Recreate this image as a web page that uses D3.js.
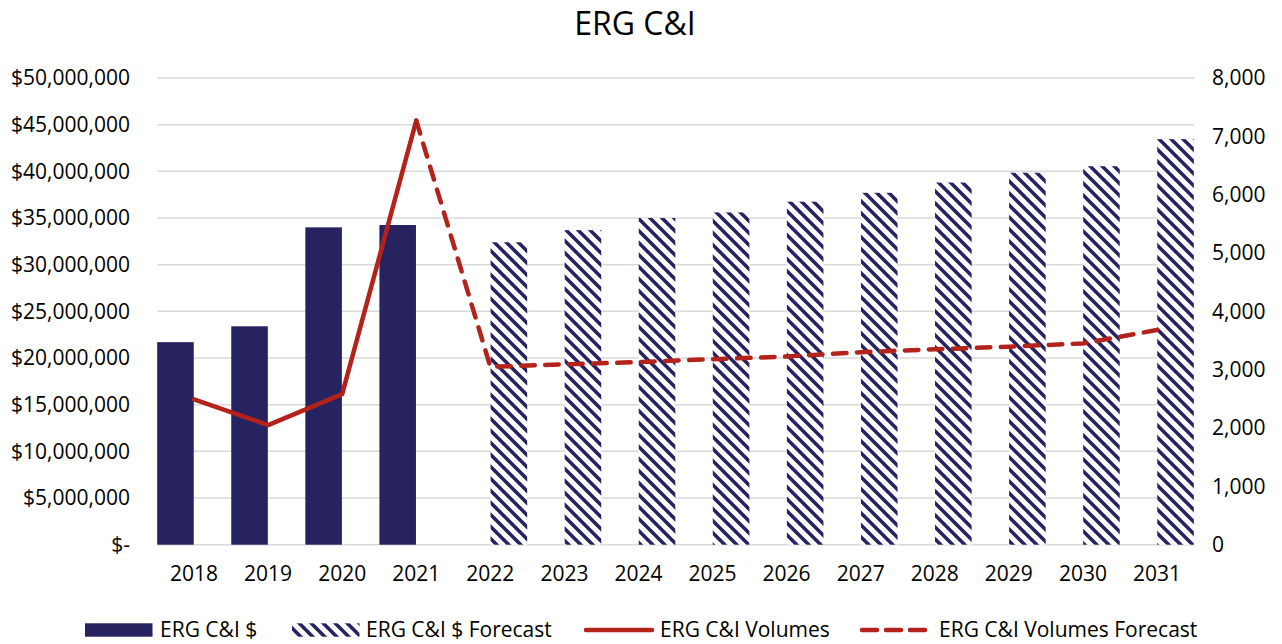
<!DOCTYPE html>
<html>
<head>
<meta charset="utf-8">
<script src="https://cdn.jsdelivr.net/npm/d3@7"></script>
<style>
  html, body { margin: 0; padding: 0; background: #fff; }
  svg { display: block; font-family: "Open Sans", sans-serif; }
</style>
</head>
<body>
<svg id="chart" width="1282" height="644"></svg>
<script>
// ---- data ----
const years = ["2018","2019","2020","2021","2022","2023","2024","2025","2026","2027","2028","2029","2030","2031"];
const dollars = [21700000, 23400000, 34000000, 34250000, null, null, null, null, null, null, null, null, null, null];
const dollarsForecast = [null, null, null, null, 32400000, 33700000, 35000000, 35600000, 36750000, 37700000, 38800000, 39850000, 40550000, 43450000];
const volumes = [2490, 2050, 2580, 7270, null, null, null, null, null, null, null, null, null, null];
const volumesForecast = [null, null, null, 7270, 3050, 3090, 3130, 3180, 3225, 3300, 3350, 3395, 3450, 3680];
const leftTicks = [0, 5000000, 10000000, 15000000, 20000000, 25000000, 30000000, 35000000, 40000000, 45000000, 50000000];
const rightTicks = [0, 1000, 2000, 3000, 4000, 5000, 6000, 7000, 8000];
const seriesNames = ["ERG C&I $", "ERG C&I $ Forecast", "ERG C&I Volumes", "ERG C&I Volumes Forecast"];
const title = "ERG C&I";

const NAVY = "#272361";
const RED = "#B3221B";
const GRID = "#d9d9d9";
const AXIS_FS = 21;

const svg = d3.select("#chart");

// pattern (wide downward diagonal)
const defs = svg.append("defs");
const P = 12;
const pat = defs.append("pattern")
  .attr("id", "hatch")
  .attr("patternUnits", "userSpaceOnUse")
  .attr("width", P).attr("height", P);
pat.append("rect").attr("width", P).attr("height", P).attr("fill", "#fff");
pat.append("path")
  .attr("d", `M${-P},0 L${P},${2*P} M${-P/2},${-P/2} L${1.5*P},${1.5*P} M0,${-P} L${2*P},${P}`)
  .attr("stroke", NAVY).attr("stroke-width", 3.6);

// scales
const x = d3.scaleBand().domain(years).range([157, 1194]).paddingInner(0).paddingOuter(0);
const sub = d3.scaleBand().domain(["a","f"]).range([0, x.bandwidth()]).paddingInner(0.015).paddingOuter(0.005);
const yL = d3.scaleLinear().domain([0, 50000000]).range([544.7, 78]);
const yR = d3.scaleLinear().domain([0, 8000]).range([544.7, 78]);

// gridlines
svg.append("g").selectAll("line").data(leftTicks).join("line")
  .attr("x1", 157.5).attr("x2", 1194)
  .attr("y1", d => yL(d)).attr("y2", d => yL(d))
  .attr("stroke", GRID).attr("stroke-width", 1.5);

// left axis
const fmtL = d => d === 0 ? "$-" : d3.format("$,")(d);
const gL = svg.append("g").attr("transform", "translate(130,0)")
  .call(d3.axisLeft(yL).tickValues(leftTicks).tickFormat(fmtL).tickSize(0).tickPadding(0));
gL.select(".domain").remove();
gL.selectAll("text").attr("font-family", "Open Sans").attr("font-size", AXIS_FS).attr("fill", "#000");

// right axis
const gR = svg.append("g").attr("transform", "translate(1212,0)")
  .call(d3.axisRight(yR).tickValues(rightTicks).tickFormat(d3.format(",")).tickSize(0).tickPadding(0));
gR.select(".domain").remove();
gR.selectAll("text").attr("font-family", "Open Sans").attr("font-size", AXIS_FS).attr("fill", "#000");

// bottom axis
const gB = svg.append("g").attr("transform", "translate(0,566)")
  .call(d3.axisBottom(x).tickSize(0).tickPadding(0));
gB.select(".domain").remove();
gB.selectAll("text").attr("font-family", "Open Sans").attr("font-size", AXIS_FS).attr("fill", "#000");

// bars
const barData = years.map((y, i) => ({ y, a: dollars[i], f: dollarsForecast[i] }));
svg.append("g").selectAll("rect").data(barData.filter(d => d.a != null)).join("rect")
  .attr("x", d => x(d.y) + sub("a"))
  .attr("width", sub.bandwidth())
  .attr("y", d => yL(d.a))
  .attr("height", d => yL(0) - yL(d.a))
  .attr("fill", NAVY);
svg.append("g").selectAll("rect").data(barData.filter(d => d.f != null)).join("rect")
  .attr("x", d => x(d.y) + sub("f"))
  .attr("width", sub.bandwidth())
  .attr("y", d => yL(d.f))
  .attr("height", d => yL(0) - yL(d.f))
  .attr("fill", "url(#hatch)");

// lines
const cx = d => x(d) + x.bandwidth() / 2;
const line = d3.line().defined(d => d.v != null).x(d => cx(d.y)).y(d => yR(d.v));
svg.append("path")
  .datum(years.map((y, i) => ({ y, v: volumesForecast[i] })))
  .attr("d", line)
  .attr("fill", "none").attr("stroke", RED).attr("stroke-width", 4.5)
  .attr("stroke-linecap", "round").attr("stroke-linejoin", "round")
  .attr("stroke-dasharray", "13.5,10.5");
svg.append("path")
  .datum(years.map((y, i) => ({ y, v: volumes[i] })))
  .attr("d", line)
  .attr("fill", "none").attr("stroke", RED).attr("stroke-width", 4.5)
  .attr("stroke-linecap", "round").attr("stroke-linejoin", "round");

// title
svg.append("text").attr("x", 635).attr("y", 35)
  .attr("text-anchor", "middle").attr("font-size", 32).attr("fill", "#000")
  .text(title);

// legend
const lg = svg.append("g");
const LY = 630;
const legendItems = [
  { name: seriesNames[0], sx: 85, tx: 160, type: "solid" },
  { name: seriesNames[1], sx: 292, tx: 366, type: "hatch" },
  { name: seriesNames[2], sx: 586, tx: 660, type: "line" },
  { name: seriesNames[3], sx: 862, tx: 939, type: "dash" }
];
legendItems.forEach(it => {
  if (it.type === "solid" || it.type === "hatch") {
    lg.append("rect").attr("x", it.sx).attr("y", 623.3).attr("width", 67.5).attr("height", 13.4)
      .attr("fill", it.type === "solid" ? NAVY : "url(#hatch)");
  } else {
    lg.append("line").attr("x1", it.sx).attr("x2", it.sx + 66).attr("y1", LY).attr("y2", LY)
      .attr("stroke", RED).attr("stroke-width", 4.5).attr("stroke-linecap", "round")
      .attr("stroke-dasharray", it.type === "dash" ? "15,9" : null);
  }
  lg.append("text").attr("x", it.tx).attr("y", 637).attr("font-size", 21).attr("fill", "#000").text(it.name);
});
</script>
</body>
</html>
